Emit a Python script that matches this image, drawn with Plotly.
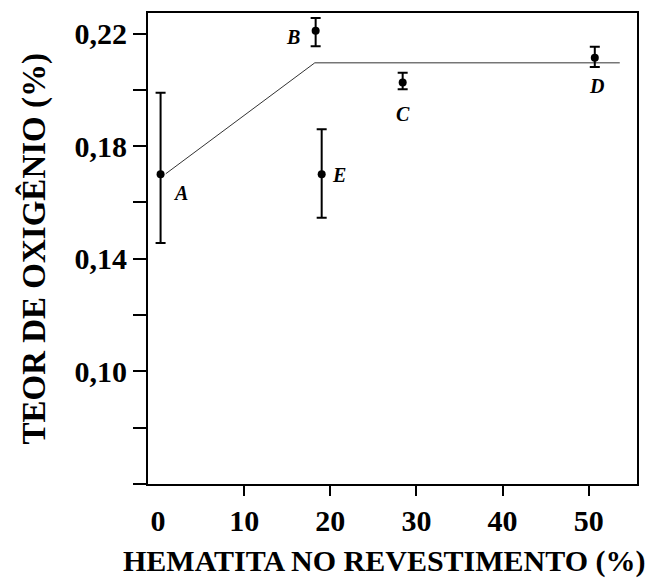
import plotly.graph_objects as go

# ---- data ----
labels = ["A", "B", "C", "D", "E"]
hematita = [0.3, 18.3, 28.4, 50.7, 19.0]          # % hematita no revestimento
oxigenio = [0.170, 0.221, 0.2026, 0.2114, 0.170]   # teor de oxigênio (%)
err_plus = [0.029, 0.0045, 0.0035, 0.0039, 0.016]
err_minus = [0.0244, 0.0055, 0.0024, 0.0033, 0.0154]

trend_x = [0.9, 18.2, 53.6]
trend_y = [0.1702, 0.2096, 0.2096]

x_ticks = [0, 10, 20, 30, 40, 50]
x_minor = [10, 20, 30, 40, 50]
y_ticks = [0.10, 0.14, 0.18, 0.22]
y_tick_text = ["0,10", "0,14", "0,18", "0,22"]
y_minor = [0.06, 0.08, 0.12, 0.16, 0.20]

# label offsets (pixels) from each point
label_dx = [20, -23, 0, 2, 17]
label_dy = [-19, -6, -31, -28, -1]

FONT = "Liberation Serif"

fig = go.Figure()
fig.add_trace(go.Scatter(
    x=trend_x, y=trend_y, mode="lines",
    line=dict(color="#333333", width=1), hoverinfo="skip", showlegend=False))
fig.add_trace(go.Scatter(
    x=hematita, y=oxigenio, mode="markers",
    marker=dict(color="black", size=8),
    error_y=dict(type="data", symmetric=False, array=err_plus, arrayminus=err_minus,
                 color="black", thickness=2, width=5),
    showlegend=False))

for lab, xv, yv, dx, dy in zip(labels, hematita, oxigenio, label_dx, label_dy):
    fig.add_annotation(x=xv, y=yv, text=lab, showarrow=False,
                       xshift=dx, yshift=dy,
                       font=dict(family=FONT, size=20, color="black",
                                 weight="bold", style="italic"))

# axis titles as annotations for precise placement
fig.add_annotation(xref="paper", yref="paper", x=0.5, y=0,
                   text="HEMATITA NO REVESTIMENTO (%)", showarrow=False,
                   xanchor="center", yanchor="middle", xshift=-8, yshift=-77,
                   font=dict(family=FONT, size=30, color="black", weight="bold"))
fig.add_annotation(xref="paper", yref="paper", x=0, y=0.5,
                   text="TEOR DE OXIGÊNIO (%)", showarrow=False, textangle=-90,
                   xanchor="center", yanchor="middle", xshift=-115, yshift=-1,
                   font=dict(family=FONT, size=33, color="black", weight="bold"))

fig.update_xaxes(
    range=[-1.16, 55.6], tickvals=x_ticks, ticks="", showgrid=False, zeroline=False,
    showline=True, linecolor="black", linewidth=2, mirror=True,
    tickfont=dict(family=FONT, size=30, color="black", weight="bold"),
    ticklabelstandoff=9,
    minor=dict(tickvals=x_minor, ticks="outside", ticklen=10, tickwidth=2, tickcolor="black",
               showgrid=False))
fig.update_yaxes(
    range=[0.06, 0.2273], tickvals=y_ticks, ticktext=y_tick_text,
    ticks="outside", ticklen=13, tickwidth=2, tickcolor="black",
    showgrid=False, zeroline=False,
    showline=True, linecolor="black", linewidth=2, mirror=True,
    tickfont=dict(family=FONT, size=30, color="black", weight="bold"),
    minor=dict(tickvals=y_minor, ticks="outside", ticklen=13, tickwidth=2, tickcolor="black",
               showgrid=False))

# page body has an 8px default margin, so the figure is sized/margined to compensate
fig.update_layout(
    width=650, height=575,
    margin=dict(l=140, r=21, t=3, b=99),
    paper_bgcolor="white", plot_bgcolor="white",
    font=dict(family=FONT, color="black"))

fig.write_html("out.html")
